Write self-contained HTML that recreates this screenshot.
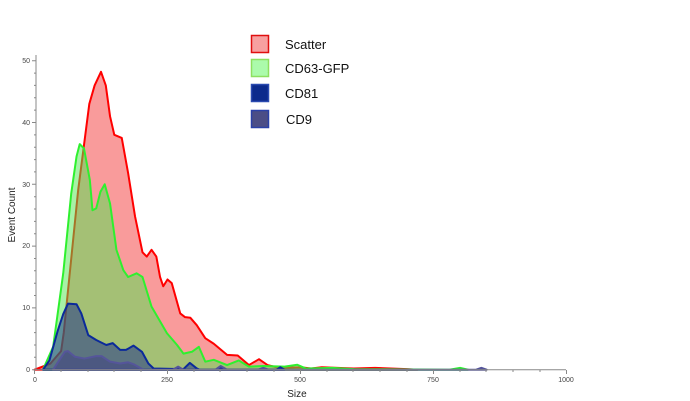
<!DOCTYPE html>
<html><head><meta charset="utf-8"><style>
body{margin:0;background:#fff;}
svg{display:block;font-family:"Liberation Sans",sans-serif;}
.s{vector-effect:non-scaling-stroke;stroke-width:2;stroke-linejoin:round;}
</style></head><body>
<svg width="690" height="401" viewBox="0 0 690 401">
<g transform="translate(34.5,369.7) scale(0.532,-6.18)">
<path class="s" fill="#f99b9b" stroke="#f00" d="M0,0 L30,1 L50,3 L55,6 L82,29 L103,43 L113,46 L125,48.2 L134,46 L142,41 L150,38 L164,37.5 L176,31.8 L189,24.8 L203,19 L211,18.3 L220,19.4 L229,18.3 L236,15 L242,13.5 L250,14.6 L258,14 L274,9.1 L283,8.5 L293,8.4 L305,7.2 L321,5.1 L337,4.2 L362,2.4 L382,2.3 L403,0.75 L422,1.7 L438,0.75 L460,0.3 L500,0.4 L520,0.2 L540,0.4 L600,0.2 L640,0.3 L700,0.1 L720,0 Z"/>
<path class="s" fill="rgba(80,230,80,0.5)" stroke="#2ef02e" d="M16,0 L35,3.7 L54,15.6 L69,28.5 L79,34.5 L85,36.5 L93,35.8 L104,30.7 L109,25.8 L116,26.1 L124,28.8 L132,30 L142,26.9 L154,19.4 L167,16.1 L176,15 L192,15.6 L203,15 L220,10.2 L249,5.9 L268,4 L280,2.6 L296,2.9 L309,3.7 L321,1.3 L337,1.6 L362,0.75 L384,1.5 L403,0.5 L430,0.6 L470,0.5 L494,0.8 L510,0.2 L560,0.3 L600,0.1 L780,0 L800,0.3 L815,0 Z"/>
<path class="s" fill="rgba(20,40,140,0.5)" stroke="#0b2a9a" d="M16,0 L28,1.5 L44,6.4 L54,9 L63,10.7 L79,10.6 L88,9.1 L101,5.6 L116,4.8 L123,4.5 L135,4 L147,4.3 L161,3.2 L172,3.2 L186,3.9 L202,2.9 L214,1 L224,0.2 L280,0.1 L292,1.1 L305,0.2 L310,0 L345,0 L352,0.3 L360,0 L455,0 L462,0.4 L470,0 Z"/>
<path class="s" fill="rgba(60,60,130,0.5)" stroke="#55559a" d="M35,0 L47,1.6 L57,2.9 L63,3.0 L76,2.1 L94,1.8 L116,2.2 L126,2.2 L142,1.3 L161,1 L176,1.2 L186,0.9 L205,0 L260,0 L270,0.5 L280,0 L340,0 L350,0.6 L362,0 L420,0 L430,0.3 L440,0 L830,0 L840,0.3 L850,0 Z"/>
</g>
<g stroke="#888" stroke-width="1" fill="none">
<line x1="36" y1="55" x2="36" y2="370"/>
<line x1="36" y1="369.7" x2="566" y2="369.7"/>
</g>
<g stroke="#888" stroke-width="1" id="ticks">
<!-- y ticks -->
<path d="M32,369.7h4M32,307.9h4M32,246.1h4M32,184.3h4M32,122.5h4M32,60.7h4
M34,357.3h2M34,345h2M34,332.6h2M34,320.3h2M34,295.5h2M34,283.2h2M34,270.8h2M34,258.5h2M34,233.7h2M34,221.4h2M34,209h2M34,196.7h2M34,171.9h2M34,159.6h2M34,147.2h2M34,134.9h2M34,110.1h2M34,97.8h2M34,85.4h2M34,73.1h2"/>
<path d="M34.5,370v4M167.5,370v4M300.5,370v4M433.5,370v4M566.5,370v4
M61,370v2M88,370v2M114,370v2M141,370v2M194,370v2M220,370v2M247,370v2M274,370v2M327,370v2M353,370v2M380,370v2M407,370v2M460,370v2M486,370v2M513,370v2M540,370v2"/>
</g>
<g font-size="7" fill="#444" text-anchor="end">
<text x="30" y="372">0</text><text x="30" y="310">10</text><text x="30" y="248">20</text><text x="30" y="187">30</text><text x="30" y="125">40</text><text x="30" y="63">50</text>
</g>
<g font-size="7" fill="#444" text-anchor="middle">
<text x="35" y="382">0</text><text x="167" y="382">250</text><text x="300" y="382">500</text><text x="433" y="382">750</text><text x="566" y="382">1000</text>
</g>
<text x="297" y="397" font-size="10" fill="#222" text-anchor="middle">Size</text>
<text transform="translate(15,215) rotate(-90)" font-size="10" fill="#222" text-anchor="middle">Event Count</text>
<g stroke-width="1.5">
<rect x="251.5" y="35.5" width="17" height="17" fill="#f7a0a0" stroke="#e01010"/>
<rect x="251.5" y="59.5" width="17" height="17" fill="#abfbab" stroke="#8de060"/>
<rect x="251.5" y="84.5" width="17" height="17" fill="#0c2a8c" stroke="#2a4ab0"/>
<rect x="251.5" y="110.5" width="17" height="17" fill="#4b4d86" stroke="#2a40a8"/>
</g>
<g font-size="13" fill="#111">
<text x="285" y="49">Scatter</text>
<text x="285" y="73">CD63-GFP</text>
<text x="285" y="98">CD81</text>
<text x="286" y="124">CD9</text>
</g>
</svg>
</body></html>
